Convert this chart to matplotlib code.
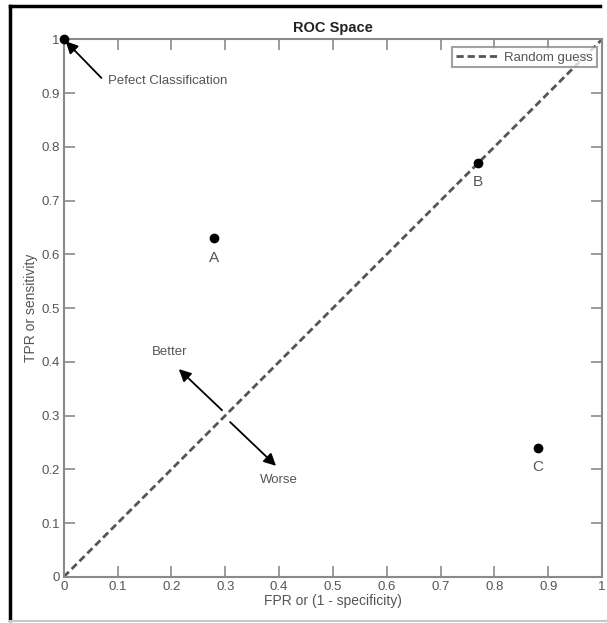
"""ROC space diagram with three example classifiers."""
import matplotlib
matplotlib.use("Agg")
import matplotlib.pyplot as plt
from matplotlib.lines import Line2D

# classifiers placed in ROC space
POINT_NAMES = ["A", "B", "C"]
POINT_FPR = [0.28, 0.77, 0.88]
POINT_TPR = [0.63, 0.77, 0.24]

PERFECT = (0.0, 1.0)
GUESS_X = [0, 1]
GUESS_Y = [0, 1]

TICKS = [0, 0.1, 0.2, 0.3, 0.4, 0.5, 0.6, 0.7, 0.8, 0.9, 1]
TICK_LABELS = ["0", "0.1", "0.2", "0.3", "0.4", "0.5", "0.6", "0.7", "0.8", "0.9", "1"]

GREY = "#555555"
SPINE = "#8a8a8a"
DASH = (0, (2.6, 1.4))

plt.rcParams["font.family"] = ["Liberation Sans", "DejaVu Sans"]

fig = plt.figure(figsize=(6.07, 6.23), dpi=100)
ax = fig.add_axes([0.105, 0.074, 0.887, 0.863])

ax.plot(GUESS_X, GUESS_Y, ls=DASH, color="#555555", lw=2.0, zorder=2)
ax.plot(POINT_FPR, POINT_TPR, "o", color="black", ms=6, zorder=3)
ax.plot(*PERFECT, "o", color="black", ms=6, zorder=3, clip_on=False)

for name, x, y in zip(POINT_NAMES, POINT_FPR, POINT_TPR):
    ax.text(x, y - 0.036, name, ha="center", va="center", fontsize=11, color=GREY)

arrow = dict(arrowstyle="-|>", color="black", lw=1.3, mutation_scale=18,
             shrinkA=0, shrinkB=2)
ax.annotate("", xy=PERFECT, xytext=(0.07, 0.928), arrowprops=arrow)
ax.text(0.082, 0.922, "Pefect Classification", ha="left", va="center",
        fontsize=9.5, color=GREY)
ax.annotate("", xy=(0.21, 0.39), xytext=(0.294, 0.31), arrowprops=arrow)
ax.annotate("", xy=(0.398, 0.203), xytext=(0.309, 0.288), arrowprops=arrow)
ax.text(0.197, 0.418, "Better", ha="center", va="center", fontsize=9.5, color=GREY)
ax.text(0.40, 0.18, "Worse", ha="center", va="center", fontsize=9.5, color=GREY)

ax.set_xlim(0, 1)
ax.set_ylim(0, 1)
ax.set_xticks(TICKS)
ax.set_xticklabels(TICK_LABELS)
ax.set_yticks(TICKS)
ax.set_yticklabels(TICK_LABELS)
ax.tick_params(direction="in", length=8, width=1.2, color=SPINE,
               labelcolor=GREY, labelsize=9.5, top=True, right=True, pad=3)
for s in ax.spines.values():
    s.set_color(SPINE)
    s.set_linewidth(1.5)

ax.set_xlabel("FPR or (1 - specificity)", fontsize=10, color=GREY, labelpad=1)
ax.set_ylabel("TPR or sensitivity", fontsize=10, color=GREY, labelpad=2)
ax.set_title("ROC Space", fontsize=10.5, fontweight="bold", color="#222222", pad=5)

handle = Line2D([], [], ls=DASH, color="#555555", lw=2.0)
leg = ax.legend([handle], ["Random guess"], loc="upper right",
                bbox_to_anchor=(0.991, 0.985), fontsize=9.5, frameon=True,
                fancybox=False, handlelength=3.2, handletextpad=0.5,
                borderpad=0.3, borderaxespad=0)
leg.get_frame().set_edgecolor(SPINE)
leg.get_frame().set_linewidth(1.5)
for t in leg.get_texts():
    t.set_color(GREY)

# outer frame of the screenshot
fig.add_artist(Line2D([10 / 607, 10 / 607], [0.005, 1 - 6 / 623],
                      transform=fig.transFigure, color="black", lw=2.5))
fig.add_artist(Line2D([10 / 607, 600 / 607], [1 - 6 / 623, 1 - 6 / 623],
                      transform=fig.transFigure, color="black", lw=2.5))
fig.add_artist(Line2D([10 / 607, 1], [0.004, 0.004],
                      transform=fig.transFigure, color="#c8c8c8", lw=1.5))

fig.savefig("out.png", dpi=100)
